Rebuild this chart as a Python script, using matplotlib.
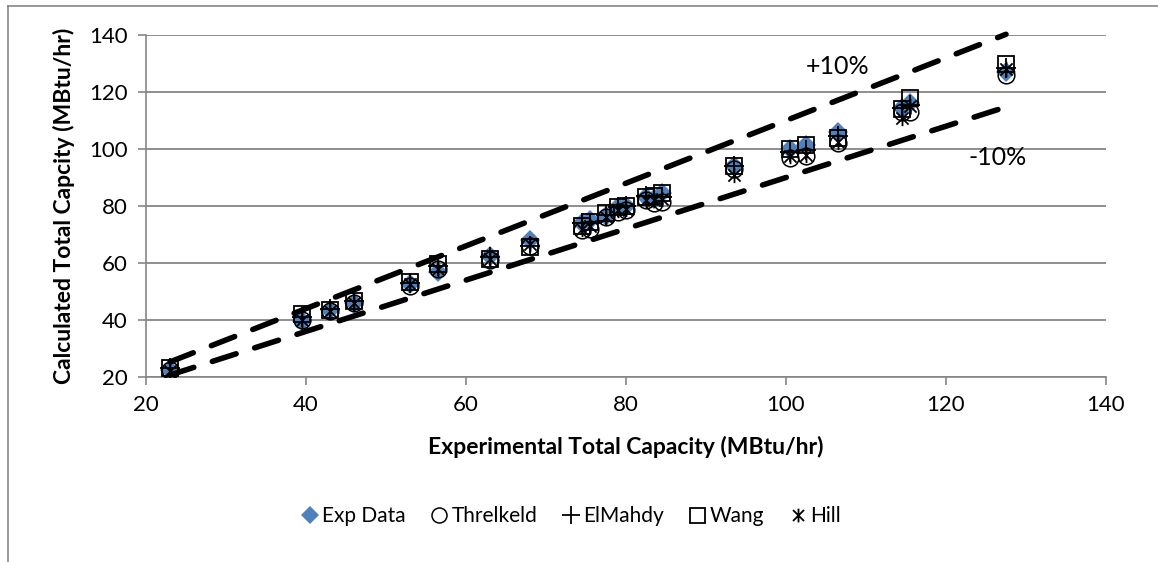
import matplotlib
matplotlib.use('Agg')
import matplotlib.pyplot as plt
from matplotlib.path import Path
from matplotlib.lines import Line2D

plt.rcParams.update({
    'font.family': ['Lato', 'DejaVu Sans'],
    'font.size': 14,
    'axes.edgecolor': '#868686',
    'xtick.color': '#868686',
    'ytick.color': '#868686',
    'xtick.labelcolor': 'black',
    'ytick.labelcolor': 'black',
})

# experimental vs calculated total capacity (MBtu/hr)
EXP_X = [23, 39.5, 43, 46, 53, 56.5, 63, 68, 74.5, 75.5, 77.5, 79, 80,
         82.5, 83.5, 84.5, 93.5, 100.5, 102.5, 106.5, 114.5, 115.5, 127.5]
EXP_Y = [22.5, 39.5, 43.5, 46, 52.5, 57, 62.5, 68, 74, 75, 76.5, 79.5, 80,
         83, 82.5, 84.5, 94, 100, 101.5, 106, 114.5, 116, 127]
THRELKELD = [22.5, 40, 43, 46, 52, 58, 61, 66, 71.5, 72, 76, 78, 78.5,
             82, 81, 81.5, 93, 97, 97.5, 102, 113, 113, 126]
ELMAHDY = [23, 41, 44, 46.5, 53, 59, 62, 66, 74, 74, 77, 79.5, 80,
           83.5, 83, 83, 94, 99, 99.5, 104.5, 114.5, 115.5, 128.5]
WANG = [23, 42, 43.5, 46.5, 53.5, 59.5, 61.5, 65.5, 73, 74.5, 77.5, 79.5, 80,
        83, 83.5, 84.5, 94, 100, 101.5, 104, 114, 118, 130]
HILL = [22, 40, 43, 46, 52.5, 58, 61.5, 66.5, 72, 73, 76, 78.5, 79,
        82, 82, 82.5, 91, 97.5, 98, 102.5, 111, 115, 128]

BAND = [1.1, 0.9]
BAND_LABELS = ['+10%', '-10%']
TICKS = [20, 40, 60, 80, 100, 120, 140]

BLUE = '#4F81BD'

# excel-style asterisk: an X with a vertical bar through it
STAR = Path([(-1, -1), (1, 1), (-1, 1), (1, -1), (0, -1.25), (0, 1.25)],
            [Path.MOVETO, Path.LINETO] * 3)

fig = plt.figure(figsize=(11.58, 5.62), dpi=100)
ax = fig.add_axes([146 / 1158, 1 - 377 / 562, 960 / 1158, 342 / 562])

ax.plot(EXP_X, EXP_Y, 'D', color=BLUE, markersize=10.5, markeredgewidth=0,
        label='Exp Data', zorder=3)
ax.plot(EXP_X, THRELKELD, 'o', mfc='none', mec='black', markersize=12,
        markeredgewidth=1.1, label='Threlkeld', zorder=4)
ax.plot(EXP_X, ELMAHDY, '+', color='black', markersize=14,
        markeredgewidth=1.3, label='ElMahdy', zorder=5)
ax.plot(EXP_X, WANG, 's', mfc='none', mec='black', markersize=12,
        markeredgewidth=1.3, label='Wang', zorder=6)
ax.plot(EXP_X, HILL, marker=STAR, ls='none', color='black', markersize=11,
        markeredgewidth=1.3, label='Hill', zorder=7)

# +/-10% bands across the measured range
xr = [min(EXP_X), max(EXP_X)]
for f in BAND:
    ax.plot(xr, [f * v for v in xr], color='black', lw=4, ls=(0, (4.5, 3.5)),
            dash_capstyle='round', zorder=8, clip_on=False)

ax.text(106.5, 129, BAND_LABELS[0], fontsize=18, ha='center', va='center')
ax.text(126.5, 97, BAND_LABELS[1], fontsize=18, ha='center', va='center')

ax.set_xlim(20, 140)
ax.set_ylim(20, 140)
ax.set_xticks(TICKS)
ax.set_yticks(TICKS)
ax.tick_params(length=6, width=1.2, labelsize=16, pad=7)
ax.grid(axis='y', color='#868686', lw=1.3)
ax.set_axisbelow(True)
for s in ['top', 'right']:
    ax.spines[s].set_visible(False)
for s in ['left', 'bottom']:
    ax.spines[s].set_linewidth(1.2)

ax.set_xlabel('Experimental Total Capacity (MBtu/hr)', fontsize=16.5,
              fontweight='bold', labelpad=15)
ax.set_ylabel('Calculated Total Capcity (MBtu/hr)', fontsize=16.5,
              fontweight='bold', labelpad=10)

fig.legend(loc='center', bbox_to_anchor=(570 / 1158, 1 - 516 / 562), ncol=5,
           frameon=False, fontsize=15, handletextpad=0.1, columnspacing=1.1,
           handlelength=1.0, markerscale=0.9)

# chart frame (left and top edges)
fig.add_artist(Line2D([8 / 1158, 8 / 1158], [0, 1 - 6 / 562],
                      transform=fig.transFigure, color='#868686', lw=1.2))
fig.add_artist(Line2D([8 / 1158, 1], [1 - 6 / 562, 1 - 6 / 562],
                      transform=fig.transFigure, color='#868686', lw=1.2))

fig.savefig('out.png', dpi=100, facecolor='white')
